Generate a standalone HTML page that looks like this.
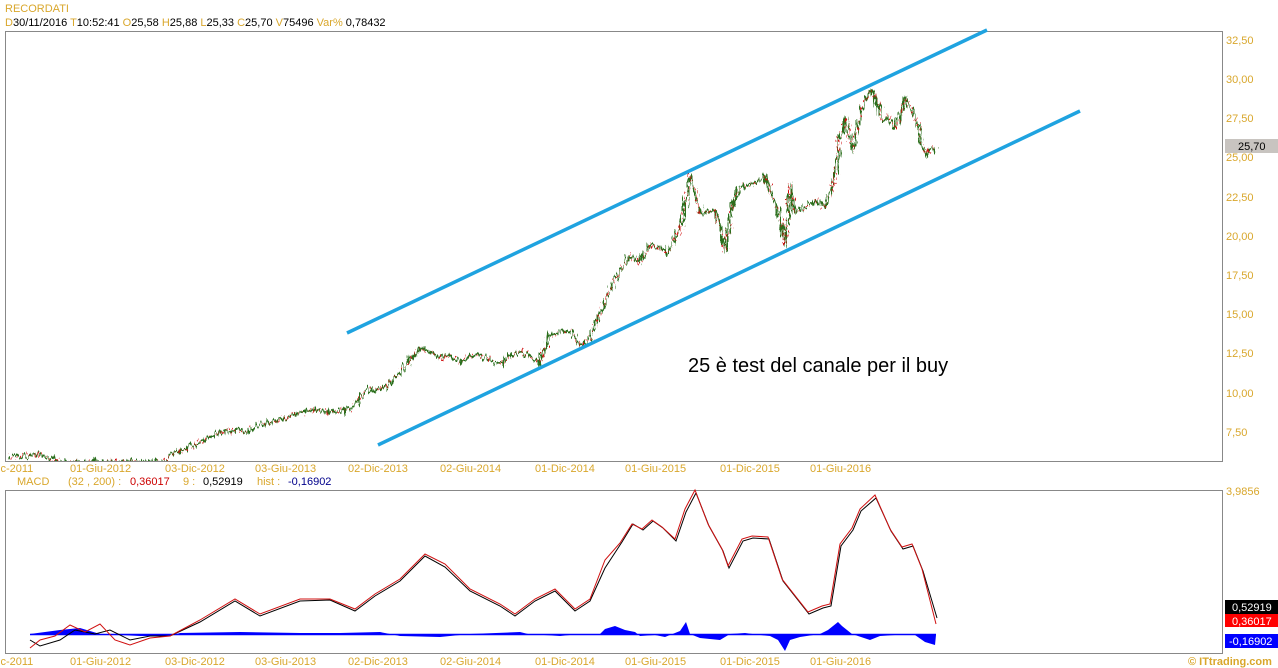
<!DOCTYPE html>
<html><head><meta charset="utf-8"><style>
html,body{margin:0;padding:0;background:#fff;}
svg{display:block;font-family:"Liberation Sans",Arial,sans-serif;}
.g{fill:#d9a72c;font-size:11px}
.k{fill:#000;font-size:11px}
</style></head><body>
<svg width="1278" height="668" viewBox="0 0 1278 668">
<defs>
<filter id="j1" x="-5%" y="-10%" width="110%" height="120%"><feTurbulence type="fractalNoise" baseFrequency="0.45 0.08" numOctaves="2" seed="3" result="n"/><feDisplacementMap in="SourceGraphic" in2="n" scale="13" xChannelSelector="R" yChannelSelector="G"/></filter>
<filter id="j2" x="-5%" y="-10%" width="110%" height="120%"><feTurbulence type="fractalNoise" baseFrequency="0.4 0.09" numOctaves="2" seed="11" result="n"/><feDisplacementMap in="SourceGraphic" in2="n" scale="13" xChannelSelector="R" yChannelSelector="G"/></filter>
<clipPath id="cp"><rect x="6" y="32" width="1216" height="429"/></clipPath>
</defs>
<rect width="1278" height="668" fill="#fff"/>
<text x="5" y="12" class="g" font-size="12">RECORDATI</text>
<text y="26" font-size="11"><tspan x="5" class="g">D</tspan><tspan class="k">30/11/2016 </tspan><tspan class="g"> T</tspan><tspan class="k">10:52:41 </tspan><tspan class="g">  O</tspan><tspan class="k">25,58 </tspan><tspan class="g"> H</tspan><tspan class="k">25,88 </tspan><tspan class="g"> L</tspan><tspan class="k">25,33 </tspan><tspan class="g"> C</tspan><tspan class="k">25,70 </tspan><tspan class="g">  V</tspan><tspan class="k">75496 </tspan><tspan class="g">  Var%</tspan><tspan class="k"> 0,78432</tspan></text>
<rect x="5.5" y="31.5" width="1217" height="430" fill="none" stroke="#888"/>
<rect x="5.5" y="490.5" width="1217" height="163" fill="none" stroke="#888"/>
<g class="g">
<text x="1226" y="44">32,50</text><text x="1226" y="83">30,00</text><text x="1226" y="122">27,50</text>
<text x="1226" y="161">25,00</text><text x="1226" y="201">22,50</text><text x="1226" y="240">20,00</text>
<text x="1226" y="279">17,50</text><text x="1226" y="318">15,00</text><text x="1226" y="357">12,50</text>
<text x="1226" y="397">10,00</text><text x="1226" y="436">7,50</text>
<text x="1226" y="495">3,9856</text>
</g>
<rect x="1225" y="139" width="53" height="14" fill="#c8c4c0"/>
<text x="1238" y="150" class="k">25,70</text>
<rect x="1225" y="600" width="53" height="14" fill="#000"/><text x="1232" y="611" fill="#fff" font-size="11">0,52919</text>
<rect x="1225" y="614" width="53" height="13" fill="#f00"/><text x="1232" y="625" fill="#fff" font-size="11">0,36017</text>
<rect x="1225" y="634" width="53" height="14" fill="#00f"/><text x="1229" y="645" fill="#fff" font-size="11">-0,16902</text>
<text x="1188" y="665" fill="#d9a72c" font-size="11" font-weight="bold">© ITtrading.com</text>
<g class="g">
<text x="-2" y="472">ic-2011</text><text x="70" y="472">01-Giu-2012</text><text x="165" y="472">03-Dic-2012</text><text x="255" y="472">03-Giu-2013</text><text x="348" y="472">02-Dic-2013</text><text x="440" y="472">02-Giu-2014</text><text x="535" y="472">01-Dic-2014</text><text x="625" y="472">01-Giu-2015</text><text x="720" y="472">01-Dic-2015</text><text x="810" y="472">01-Giu-2016</text>
<text x="-2" y="665">ic-2011</text><text x="70" y="665">01-Giu-2012</text><text x="165" y="665">03-Dic-2012</text><text x="255" y="665">03-Giu-2013</text><text x="348" y="665">02-Dic-2013</text><text x="440" y="665">02-Giu-2014</text><text x="535" y="665">01-Dic-2014</text><text x="625" y="665">01-Giu-2015</text><text x="720" y="665">01-Dic-2015</text><text x="810" y="665">01-Giu-2016</text>
</g>
<text y="485" font-size="11"><tspan x="17" class="g">MACD</tspan><tspan x="68" class="g">(32 , 200) :</tspan><tspan x="130" fill="#c00">0,36017</tspan><tspan x="183" class="g">9 :</tspan><tspan x="203" class="k">0,52919</tspan><tspan x="257" class="g">hist :</tspan><tspan x="288" fill="#00008b">-0,16902</tspan></text>
<g clip-path="url(#cp)">
<g filter="url(#j1)">
<polyline fill="none" stroke="#2a6e1a" stroke-width="2.2" stroke-linejoin="miter" points="10,458 30,455 40,454 50,458 60,462 165,462 170,455 190,447 210,437 230,430 245,432 260,425 280,420 300,412 315,410 330,412 350,410 360,398 370,388 380,390 390,384 400,372 410,360 420,348 430,352 440,358 450,355 460,362 470,356 480,355 490,360 500,364 510,357 520,352 530,356 540,362 545,348 550,335 560,332 570,330 580,344 590,338 595,326 603,305 610,290 620,270 630,256 640,262 650,245 660,248 668,252 675,238 680,230 685,205 690,176 696,195 700,214 708,212 715,210 720,225 725,252 732,205 740,187 750,185 760,180 765,175 770,190 775,205 780,215 785,246 790,185 795,212 805,208 815,200 825,206 832,190 835,172 840,135 846,120 852,150 857,130 862,108 870,90 877,100 882,120 888,115 895,128 900,118 905,98 912,110 918,125 922,145 926,155 930,148 935,150"/>
</g>
<g filter="url(#j2)">
<polyline fill="none" stroke="#d01010" stroke-width="1.5" stroke-dasharray="2 4" points="10,458 30,455 40,454 50,458 60,462 165,462 170,455 190,447 210,437 230,430 245,432 260,425 280,420 300,412 315,410 330,412 350,410 360,398 370,388 380,390 390,384 400,372 410,360 420,348 430,352 440,358 450,355 460,362 470,356 480,355 490,360 500,364 510,357 520,352 530,356 540,362 545,348 550,335 560,332 570,330 580,344 590,338 595,326 603,305 610,290 620,270 630,256 640,262 650,245 660,248 668,252 675,238 680,230 685,205 690,176 696,195 700,214 708,212 715,210 720,225 725,252 732,205 740,187 750,185 760,180 765,175 770,190 775,205 780,215 785,246 790,185 795,212 805,208 815,200 825,206 832,190 835,172 840,135 846,120 852,150 857,130 862,108 870,90 877,100 882,120 888,115 895,128 900,118 905,98 912,110 918,125 922,145 926,155 930,148 935,150"/>
</g>
</g>
<line x1="347" y1="333" x2="987" y2="30" stroke="#1fa3e0" stroke-width="3.5"/>
<line x1="378" y1="445" x2="1080" y2="111" stroke="#1fa3e0" stroke-width="3.5"/>
<text x="688" y="372" font-size="20" fill="#000">25 è test del canale per il buy</text>
<polygon fill="#0000ff" points="30,634 60,630 80,628 100,634 140,636 170,636 180,633 240,632 300,633 340,633 380,632 400,636 440,637 470,634 520,632 528,634 560,636 580,634 600,634 605,629 615,626 625,630 635,632 640,636 655,635 665,637 680,631 686,622 690,634 700,638 720,640 730,634 745,633 760,635 770,636 778,640 785,651 790,640 800,637 820,634 828,630 838,622 842,626 852,634 870,640 880,636 895,635 905,634 915,635 925,642 935,645 936,635 30,635"/>
<line x1="30" y1="634.5" x2="936" y2="634.5" stroke="#0000ff" stroke-width="1.5"/>
<polyline fill="none" stroke="#000" stroke-width="1" points="30,640 40,646 60,640 75,630 95,634 110,630 130,640 150,636 170,636 200,622 235,601 260,616 300,601 330,600 355,611 375,596 400,581 425,556 445,567 470,591 500,606 515,616 535,601 555,591 575,611 590,601 605,568 622,542 633,524 643,530 653,521 663,528 676,541 686,512 696,493 709,526 723,551 729,568 743,541 753,538 769,539 783,581 809,614 823,608 831,606 841,546 853,530 861,511 876,498 891,531 903,549 913,546 923,571 937,618"/>
<polyline fill="none" stroke="#d01010" stroke-width="1" points="30,648 40,640 55,636 70,625 85,632 100,624 115,640 130,645 150,638 170,636 200,620 235,599 260,614 300,599 330,599 355,609 375,594 400,579 425,554 445,564 470,589 500,604 515,614 535,599 555,589 575,609 590,599 605,560 620,543 632,524 642,529 652,520 662,527 675,539 685,509 695,490 708,524 722,549 728,566 742,539 752,536 768,537 782,579 808,612 822,606 830,604 840,544 852,528 860,509 875,495 890,529 902,547 912,544 922,569 936,624"/>
</svg>
</body></html>
